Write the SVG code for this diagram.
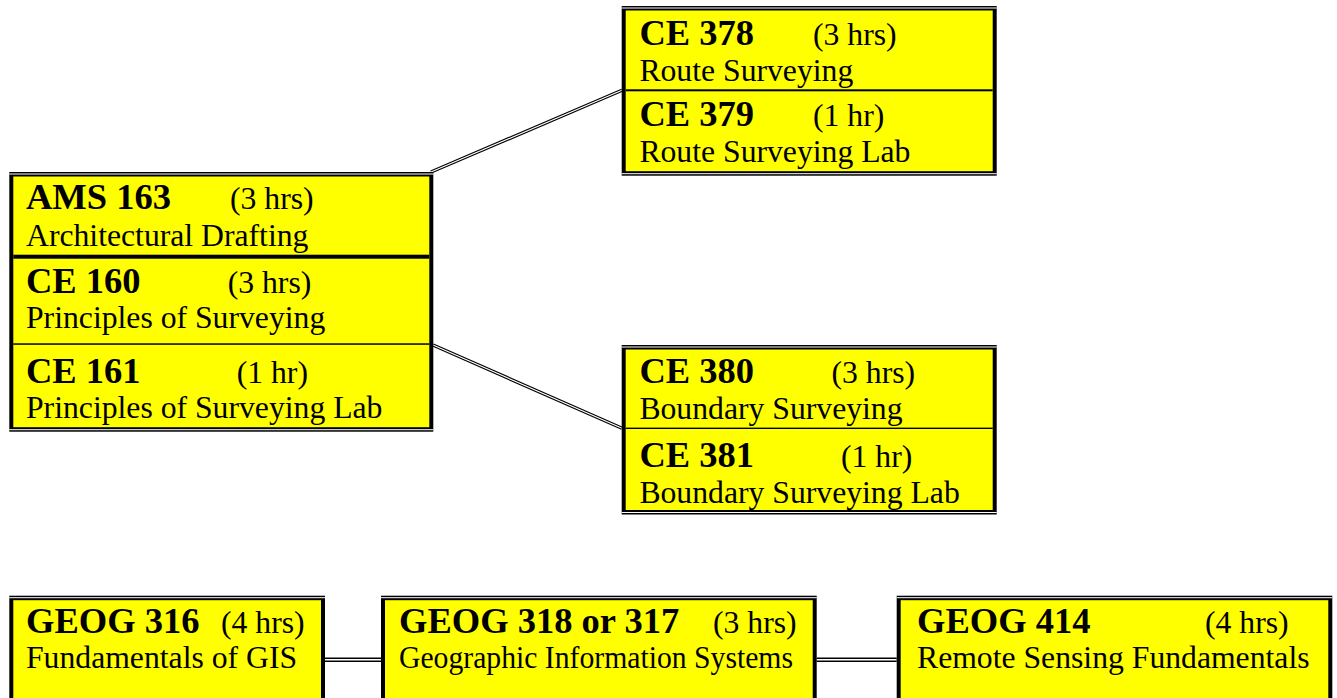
<svg xmlns="http://www.w3.org/2000/svg" width="1337" height="698" viewBox="0 0 1337 698">
<style>
.k{fill:#000}
.w{fill:#fff}
.y{fill:#ff0}
text{font-family:"Liberation Serif","Times New Roman",serif;fill:#000}
.b{font-weight:bold;font-size:36.5px}
.r{font-size:31.7px}
.lo{fill:none;stroke:#000;stroke-width:3.4}
.li{fill:none;stroke:#fff;stroke-width:1.2}
.ho{fill:none;stroke:#000;stroke-width:4.6}
.hi{fill:none;stroke:#fff;stroke-width:1.6}
</style>
<rect x="0" y="0" width="1337" height="698" fill="#fff"/>

<g id="connectors">
  <line class="lo" x1="431" y1="172" x2="622" y2="90.3"/>
  <line class="li" x1="431" y1="172" x2="622" y2="90.3"/>
  <line class="lo" x1="433" y1="345" x2="622" y2="428.3"/>
  <line class="li" x1="433" y1="345" x2="622" y2="428.3"/>
  <line class="ho" x1="325" y1="659.8" x2="381" y2="659.8"/>
  <line class="hi" x1="325" y1="659.8" x2="381" y2="659.8"/>
  <line class="ho" x1="816.7" y1="659.8" x2="896.7" y2="659.8"/>
  <line class="hi" x1="816.7" y1="659.8" x2="896.7" y2="659.8"/>
</g>

<g id="node-ams163-ce160-ce161">
  <rect class="k" x="9.3" y="172" width="424" height="259.7"/>
  <rect class="w" x="9.3" y="173.5" width="424" height="1"/>
  <rect class="w" x="9.3" y="429.2" width="424" height="1"/>
  <rect class="y" x="13.3" y="176.5" width="416" height="250.7"/>
  <rect class="k" x="13.3" y="254.7" width="416" height="4"/>
  <rect class="k" x="13.3" y="343.3" width="416" height="1.5"/>
  <text x="26" y="209.3"><tspan class="b">AMS 163</tspan><tspan class="r" x="230">(3 hrs)</tspan></text>
  <text class="r" x="26" y="246">Architectural Drafting</text>
  <text x="26" y="292.7"><tspan class="b">CE 160</tspan><tspan class="r" x="227.7">(3 hrs)</tspan></text>
  <text class="r" x="26" y="328.3">Principles of Surveying</text>
  <text x="26" y="382.7"><tspan class="b">CE 161</tspan><tspan class="r" x="236.7">(1 hr)</tspan></text>
  <text class="r" x="26" y="417.7">Principles of Surveying Lab</text>
</g>

<g id="node-ce378-ce379">
  <rect class="k" x="621.7" y="6" width="375" height="169.7"/>
  <rect class="w" x="621.7" y="7.5" width="375" height="1"/>
  <rect class="w" x="621.7" y="173.2" width="375" height="1"/>
  <rect class="y" x="625.7" y="10.5" width="367" height="160.7"/>
  <rect class="k" x="625.7" y="89.3" width="367" height="2"/>
  <text x="639.4" y="45"><tspan class="b">CE 378</tspan><tspan class="r" x="813">(3 hrs)</tspan></text>
  <text class="r" x="639.4" y="80.5">Route Surveying</text>
  <text x="639.4" y="126"><tspan class="b">CE 379</tspan><tspan class="r" x="813">(1 hr)</tspan></text>
  <text class="r" x="639.4" y="161.7">Route Surveying Lab</text>
</g>

<g id="node-ce380-ce381">
  <rect class="k" x="621.7" y="345" width="375" height="169.5"/>
  <rect class="w" x="621.7" y="346.5" width="375" height="1"/>
  <rect class="w" x="621.7" y="512" width="375" height="1"/>
  <rect class="y" x="625.7" y="349.5" width="367" height="160.5"/>
  <rect class="k" x="625.7" y="427.6" width="367" height="1.4"/>
  <text x="639.4" y="383.3"><tspan class="b">CE 380</tspan><tspan class="r" x="831.5">(3 hrs)</tspan></text>
  <text class="r" x="639.4" y="419.3">Boundary Surveying</text>
  <text x="639.4" y="466.7"><tspan class="b">CE 381</tspan><tspan class="r" x="841">(1 hr)</tspan></text>
  <text class="r" x="639.4" y="503.3">Boundary Surveying Lab</text>
</g>

<g id="node-geog316">
  <rect class="k" x="9.3" y="595.7" width="315.7" height="130"/>
  <rect class="w" x="9.3" y="597.2" width="315.7" height="1"/>
  <rect class="y" x="13.3" y="600.2" width="307.7" height="130"/>
  <text x="26" y="633.3"><tspan class="b">GEOG 316</tspan><tspan class="r" x="221">(4 hrs)</tspan></text>
  <text class="r" x="26" y="667.7">Fundamentals of GIS</text>
</g>

<g id="node-geog318">
  <rect class="k" x="381" y="595.7" width="435.7" height="130"/>
  <rect class="w" x="381" y="597.2" width="435.7" height="1"/>
  <rect class="y" x="385" y="600.2" width="427.7" height="130"/>
  <text x="399" y="633.3"><tspan class="b">GEOG 318 or 317</tspan><tspan class="r" x="713">(3 hrs)</tspan></text>
  <text class="r" x="399" y="667.7" textLength="394" lengthAdjust="spacingAndGlyphs">Geographic Information Systems</text>
</g>

<g id="node-geog414">
  <rect class="k" x="896.7" y="595.7" width="435.6" height="130"/>
  <rect class="w" x="896.7" y="597.2" width="435.6" height="1"/>
  <rect class="y" x="900.7" y="600.2" width="427.6" height="130"/>
  <text x="917" y="633.3"><tspan class="b">GEOG 414</tspan><tspan class="r" x="1205">(4 hrs)</tspan></text>
  <text class="r" x="917" y="667.7">Remote Sensing Fundamentals</text>
</g>
</svg>
